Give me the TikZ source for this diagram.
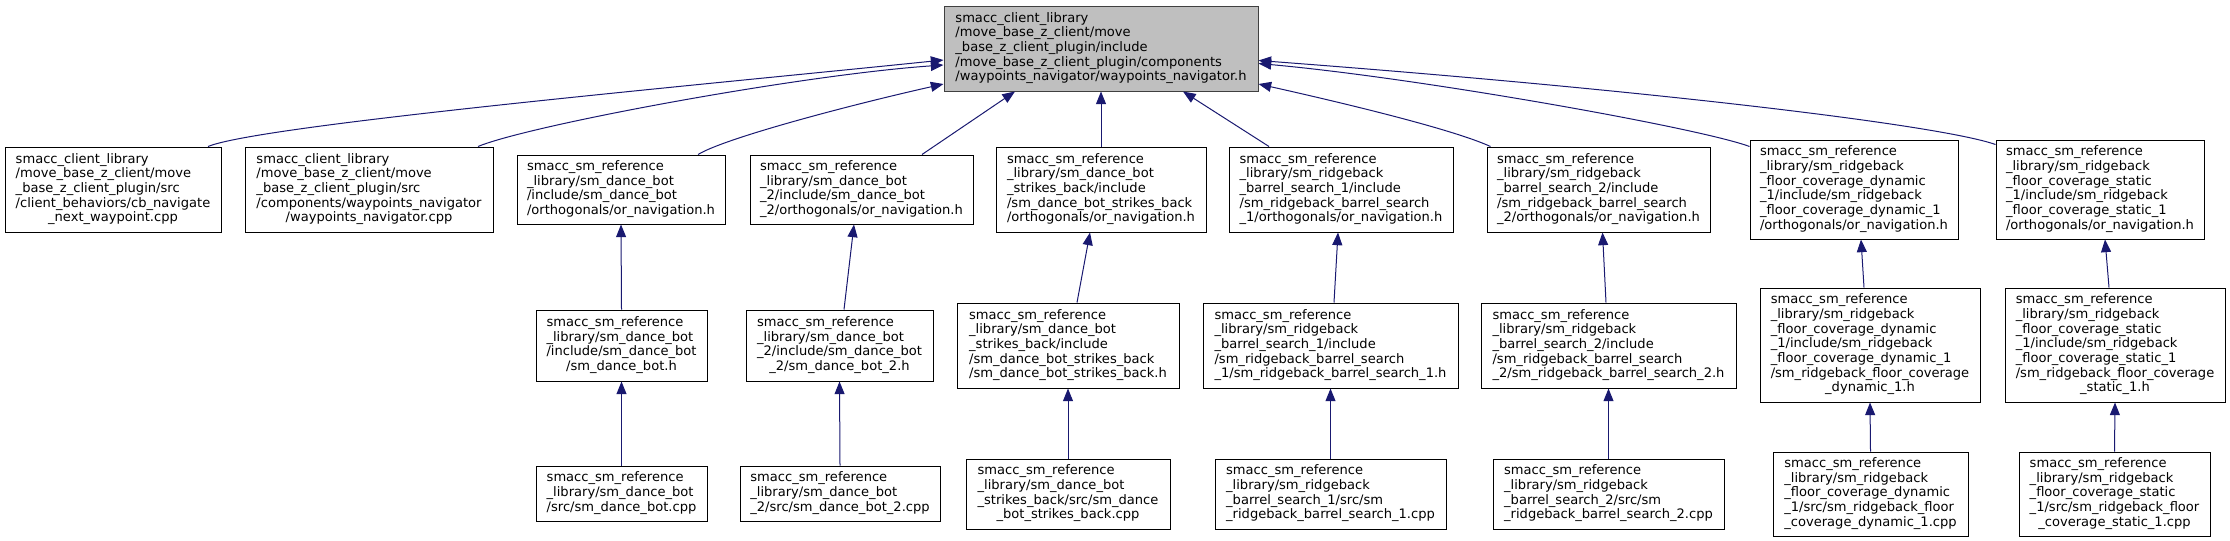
\documentclass[tikz,border=0pt]{standalone}
\usepackage{fontspec}
\setmainfont{DejaVu Sans}
\usetikzlibrary{arrows.meta,calc}
\definecolor{edgeblue}{HTML}{191970}
\definecolor{topfill}{HTML}{BFBFBF}
\definecolor{topdraw}{HTML}{404040}
\newcommand{\lbl}[2]{\begin{tabular}{@{}l@{}}#1\\\multicolumn{1}{@{}c@{}}{#2}\end{tabular}}
\begin{document}
\begin{tikzpicture}[x=0.75pt,y=-0.75pt,
  box/.style={draw=black, line width=0.75pt, fill=white, inner sep=0pt,
    font=\fontsize{9.8}{11}\selectfont},
  sz/.style 2 args={minimum width=#1*0.75pt, minimum height=#2*0.75pt},
  edge/.style={draw=edgeblue, line width=0.75pt, -{Triangle[length=9.5pt,width=7.5pt]}}]
\useasboundingbox (0,0) rectangle (2230,540);

% top
\node[box, sz={314}{85}, fill=topfill, draw=topdraw] (T) at (1101,48.5)
 {\lbl{smacc\_client\_library\\/move\_base\_z\_client/move\\\_base\_z\_client\_plugin/include\\/move\_base\_z\_client\_plugin/components}{/waypoints\_navigator/waypoints\_navigator.h}};

% row 1
\node[box, sz={216}{85}] (A) at (113,189.5)
 {\lbl{smacc\_client\_library\\/move\_base\_z\_client/move\\\_base\_z\_client\_plugin/src\\/client\_behaviors/cb\_navigate}{\_next\_waypoint.cpp}};
\node[box, sz={248}{85}] (B) at (369,189.5)
 {\lbl{smacc\_client\_library\\/move\_base\_z\_client/move\\\_base\_z\_client\_plugin/src\\/components/waypoints\_navigator}{/waypoints\_navigator.cpp}};
\node[box, sz={208}{69}] (C) at (621,189.5)
 {\lbl{smacc\_sm\_reference\\\_library/sm\_dance\_bot\\/include/sm\_dance\_bot}{/orthogonals/or\_navigation.h}};
\node[box, sz={223}{69}] (D) at (861.5,189.5)
 {\lbl{smacc\_sm\_reference\\\_library/sm\_dance\_bot\\\_2/include/sm\_dance\_bot}{\_2/orthogonals/or\_navigation.h}};
\node[box, sz={210}{85}] (E) at (1101,189.5)
 {\lbl{smacc\_sm\_reference\\\_library/sm\_dance\_bot\\\_strikes\_back/include\\/sm\_dance\_bot\_strikes\_back}{/orthogonals/or\_navigation.h}};
\node[box, sz={224}{85}] (F) at (1341,189.5)
 {\lbl{smacc\_sm\_reference\\\_library/sm\_ridgeback\\\_barrel\_search\_1/include\\/sm\_ridgeback\_barrel\_search}{\_1/orthogonals/or\_navigation.h}};
\node[box, sz={223}{85}] (G) at (1598.5,189.5)
 {\lbl{smacc\_sm\_reference\\\_library/sm\_ridgeback\\\_barrel\_search\_2/include\\/sm\_ridgeback\_barrel\_search}{\_2/orthogonals/or\_navigation.h}};
\node[box, sz={208}{99}] (H) at (1854,189.5)
 {\lbl{smacc\_sm\_reference\\\_library/sm\_ridgeback\\\_floor\_coverage\_dynamic\\\_1/include/sm\_ridgeback\\\_floor\_coverage\_dynamic\_1}{/orthogonals/or\_navigation.h}};
\node[box, sz={208}{99}] (I) at (2100,189.5)
 {\lbl{smacc\_sm\_reference\\\_library/sm\_ridgeback\\\_floor\_coverage\_static\\\_1/include/sm\_ridgeback\\\_floor\_coverage\_static\_1}{/orthogonals/or\_navigation.h}};

% row 2
\node[box, sz={171}{71}] (C2) at (621.5,345.5)
 {\lbl{smacc\_sm\_reference\\\_library/sm\_dance\_bot\\/include/sm\_dance\_bot}{/sm\_dance\_bot.h}};
\node[box, sz={187}{71}] (D2) at (839.5,345.5)
 {\lbl{smacc\_sm\_reference\\\_library/sm\_dance\_bot\\\_2/include/sm\_dance\_bot}{\_2/sm\_dance\_bot\_2.h}};
\node[box, sz={222}{85}] (E2) at (1068,345.5)
 {\lbl{smacc\_sm\_reference\\\_library/sm\_dance\_bot\\\_strikes\_back/include\\/sm\_dance\_bot\_strikes\_back}{/sm\_dance\_bot\_strikes\_back.h}};
\node[box, sz={255}{85}] (F2) at (1330.5,345.5)
 {\lbl{smacc\_sm\_reference\\\_library/sm\_ridgeback\\\_barrel\_search\_1/include\\/sm\_ridgeback\_barrel\_search}{\_1/sm\_ridgeback\_barrel\_search\_1.h}};
\node[box, sz={255}{85}] (G2) at (1608.5,345.5)
 {\lbl{smacc\_sm\_reference\\\_library/sm\_ridgeback\\\_barrel\_search\_2/include\\/sm\_ridgeback\_barrel\_search}{\_2/sm\_ridgeback\_barrel\_search\_2.h}};
\node[box, sz={220}{114}] (H2) at (1870,345)
 {\lbl{smacc\_sm\_reference\\\_library/sm\_ridgeback\\\_floor\_coverage\_dynamic\\\_1/include/sm\_ridgeback\\\_floor\_coverage\_dynamic\_1\\/sm\_ridgeback\_floor\_coverage}{\_dynamic\_1.h}};
\node[box, sz={220}{114}] (I2) at (2115,345)
 {\lbl{smacc\_sm\_reference\\\_library/sm\_ridgeback\\\_floor\_coverage\_static\\\_1/include/sm\_ridgeback\\\_floor\_coverage\_static\_1\\/sm\_ridgeback\_floor\_coverage}{\_static\_1.h}};

% row 3
\node[box, sz={171}{55}] (C3) at (621.5,493.5)
 {\lbl{smacc\_sm\_reference\\\_library/sm\_dance\_bot}{/src/sm\_dance\_bot.cpp}};
\node[box, sz={200}{55}] (D3) at (840,493.5)
 {\lbl{smacc\_sm\_reference\\\_library/sm\_dance\_bot}{\_2/src/sm\_dance\_bot\_2.cpp}};
\node[box, sz={204}{70}] (E3) at (1068,494)
 {\lbl{smacc\_sm\_reference\\\_library/sm\_dance\_bot\\\_strikes\_back/src/sm\_dance}{\_bot\_strikes\_back.cpp}};
\node[box, sz={231}{70}] (F3) at (1330.5,494)
 {\lbl{smacc\_sm\_reference\\\_library/sm\_ridgeback\\\_barrel\_search\_1/src/sm}{\_ridgeback\_barrel\_search\_1.cpp}};
\node[box, sz={231}{70}] (G3) at (1608.5,494)
 {\lbl{smacc\_sm\_reference\\\_library/sm\_ridgeback\\\_barrel\_search\_2/src/sm}{\_ridgeback\_barrel\_search\_2.cpp}};
\node[box, sz={195}{84}] (H3) at (1870.5,494)
 {\lbl{smacc\_sm\_reference\\\_library/sm\_ridgeback\\\_floor\_coverage\_dynamic\\\_1/src/sm\_ridgeback\_floor}{\_coverage\_dynamic\_1.cpp}};
\node[box, sz={191}{84}] (I3) at (2114.5,494)
 {\lbl{smacc\_sm\_reference\\\_library/sm\_ridgeback\\\_floor\_coverage\_static\\\_1/src/sm\_ridgeback\_floor}{\_coverage\_static\_1.cpp}};

% edges to top
\draw[edge] ($(A.north)+(95,0)$) .. controls (260,125) and (700,85) .. ($(T.west)+(0,11.5)$);
\draw[edge] ($(B.north)+(109,0)$) .. controls (530,125) and (800,75) .. ($(T.west)+(0,16.5)$);
\draw[edge] ($(C.north)+(77,0)$) .. controls (725,138) and (850,105) .. ($(T.west)+(0,35.5)$);
\draw[edge] ($(D.north)+(60.5,0)$) -- ($(T.south)+(-86,0)$);
\draw[edge] (E.north) -- (T.south);
\draw[edge] ($(F.north)+(-72,0)$) -- ($(T.south)+(82,0)$);
\draw[edge] ($(G.north)+(-108,0)$) .. controls (1450,128) and (1330,100) .. ($(T.east)+(0,35.5)$);
\draw[edge] ($(H.north west)+(0,7)$) .. controls (1700,128) and (1420,78) .. ($(T.east)+(0,15)$);
\draw[edge] ($(I.north west)+(0,5)$) .. controls (1940,125) and (1650,90) .. ($(T.east)+(0,12)$);

% row 2 -> row 1
\draw[edge] (C2.north) -- (C.south);
\draw[edge] ($(D2.north)+(4.5,0)$) -- ($(D.south)+(-7.5,0)$);
\draw[edge] ($(E2.north)+(9,0)$) -- ($(E.south)+(-11,0)$);
\draw[edge] ($(F2.north)+(3.5,0)$) -- ($(F.south)+(-3,0)$);
\draw[edge] ($(G2.north)+(-2.5,0)$) -- ($(G.south)+(4,0)$);
\draw[edge] ($(H2.north)+(-6,0)$) -- ($(H.south)+(7,0)$);
\draw[edge] ($(I2.north)+(-6,0)$) -- ($(I.south)+(5,0)$);

% row 3 -> row 2
\draw[edge] (C3.north) -- (C2.south);
\draw[edge] (D3.north) -- (D2.south);
\draw[edge] (E3.north) -- (E2.south);
\draw[edge] (F3.north) -- (F2.south);
\draw[edge] (G3.north) -- (G2.south);
\draw[edge] (H3.north) -- (H2.south);
\draw[edge] (I3.north) -- (I2.south);
\end{tikzpicture}
\end{document}
